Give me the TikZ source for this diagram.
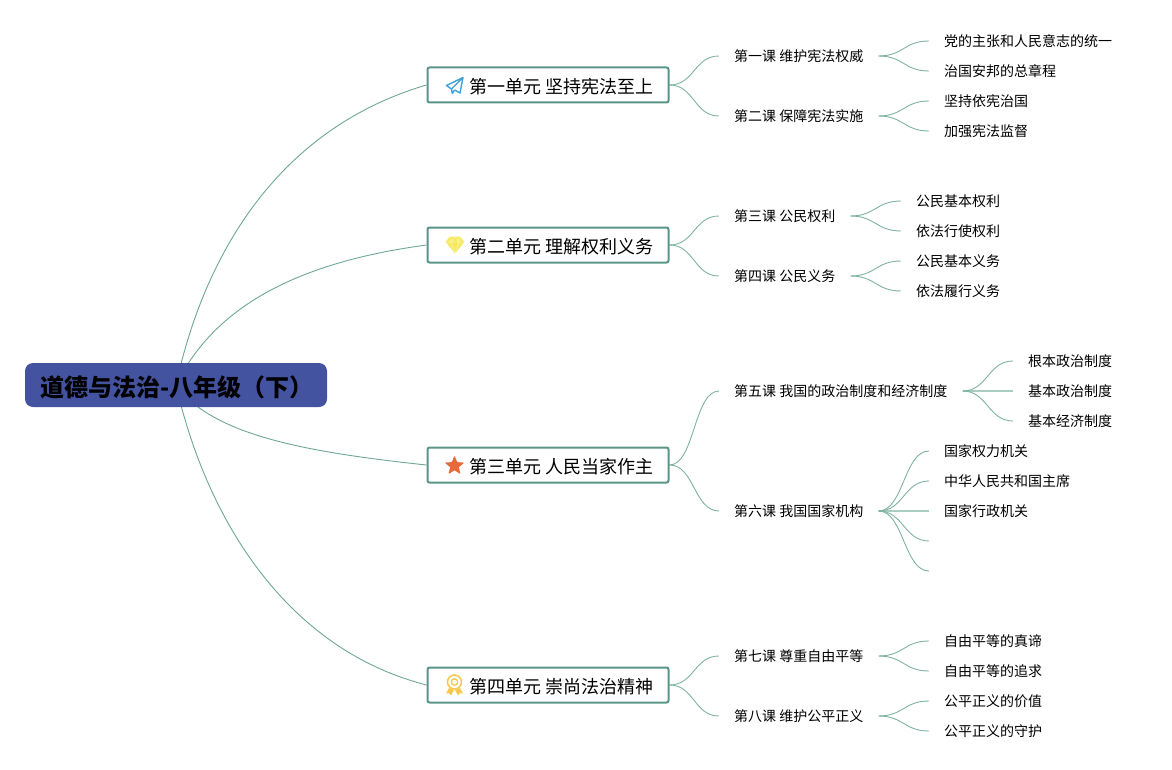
\documentclass[tikz,border=0pt]{standalone}
\usepackage{fontspec}
\setmainfont{Noto Sans CJK SC}
\usetikzlibrary{backgrounds,shapes.geometric}
\definecolor{branch}{HTML}{6FA796}
\definecolor{smallbranch}{HTML}{7FB3A2}
\definecolor{flatbranch}{HTML}{A9CDC1}
\definecolor{boxline}{HTML}{5A9686}
\definecolor{rootfill}{HTML}{4353A0}
\definecolor{planeblue}{HTML}{3FA0DA}
\definecolor{gemyellow}{HTML}{F6E95F}
\definecolor{gemfacet}{HTML}{FBF4A6}
\definecolor{starorange}{HTML}{E9693A}
\definecolor{medalgold}{HTML}{F6C94E}
\tikzset{
  x=1pt,y=-1pt,
  rootnode/.style={draw=none,fill=rootfill,rounded corners=8pt,minimum width=302pt,minimum height=44pt,inner sep=0pt,
    font=\fontsize{24}{24}\selectfont\bfseries,text=black,text height=23pt,text depth=1pt},
  unitbox/.style={draw=boxline,line width=2pt,fill=white,rounded corners=2pt,minimum width=241pt,minimum height=35pt,inner sep=0pt,
    font=\fontsize{18}{18}\selectfont,text=black,text height=17.3pt,text depth=0.7pt},
  lesson/.style={anchor=west,inner xsep=15pt,inner ysep=0pt,font=\fontsize{14}{14}\selectfont,text=black,text height=12.3pt,text depth=1.7pt},
  leaf/.style={lesson},
  conn/.style={draw=smallbranch,line width=0.9pt},
  flatconn/.style={draw=flatbranch,line width=1.6pt},
  bigconn/.style={draw=branch,line width=0.9pt},
}
\newcommand{\sbranch}[2]{\draw[conn] (#1) .. controls +(25,0) and +(-25,0) .. (#2);}
\begin{document}
\begin{tikzpicture}
\useasboundingbox (0,0) rectangle (1172,770);
% root and units
\node[rootnode] (root) at (176,385) {\hspace*{1.5pt}道德与法治-八年级（下）};
\node[unitbox] (u1) at (548,85) {\hspace*{27pt}第一单元 坚持宪法至上};
\node[unitbox] (u2) at (548,245) {\hspace*{27pt}第二单元 理解权利义务};
\node[unitbox] (u3) at (548,465) {\hspace*{27pt}第三单元 人民当家作主};
\node[unitbox] (u4) at (548,685) {\hspace*{27pt}第四单元 崇尚法治精神};
% lessons
\node[lesson] (l1) at (719,56) {第一课 维护宪法权威};
\node[lesson] (l2) at (719,116) {第二课 保障宪法实施};
\node[lesson] (l3) at (719,216) {第三课 公民权利};
\node[lesson] (l4) at (719,276) {第四课 公民义务};
\node[lesson] (l5) at (719,391) {第五课 我国的政治制度和经济制度};
\node[lesson] (l6) at (719,511) {第六课 我国国家机构};
\node[lesson] (l7) at (719,656) {第七课 尊重自由平等};
\node[lesson] (l8) at (719,716) {第八课 维护公平正义};
% leaves
\node[leaf] (a1) at (929,41) {党的主张和人民意志的统一};
\node[leaf] (a2) at (929,71) {治国安邦的总章程};
\node[leaf] (b1) at (929,101) {坚持依宪治国};
\node[leaf] (b2) at (929,131) {加强宪法监督};
\node[leaf] (c1) at (901,201) {公民基本权利};
\node[leaf] (c2) at (901,231) {依法行使权利};
\node[leaf] (d1) at (901,261) {公民基本义务};
\node[leaf] (d2) at (901,291) {依法履行义务};
\node[leaf] (e1) at (1013,361) {根本政治制度};
\node[leaf] (e2) at (1013,391) {基本政治制度};
\node[leaf] (e3) at (1013,421) {基本经济制度};
\node[leaf] (f1) at (929,451) {国家权力机关};
\node[leaf] (f2) at (929,481) {中华人民共和国主席};
\node[leaf] (f3) at (929,511) {国家行政机关};
\coordinate (f4) at (929,541);
\coordinate (f5) at (929,571);
\node[leaf] (g1) at (929,641) {自由平等的真谛};
\node[leaf] (g2) at (929,671) {自由平等的追求};
\node[leaf] (h1) at (929,701) {公平正义的价值};
\node[leaf] (h2) at (929,731) {公平正义的守护};
% connectors
\begin{scope}[on background layer]
\fill[white] (0,0) rectangle (1172,770);
\draw[bigconn] (root.center) .. controls (208,238) and (290,125) .. (u1.west);
\draw[bigconn] (root.center) .. controls (215,305) and (300,262) .. (u2.west);
\draw[bigconn] (root.center) .. controls (212,435) and (305,452) .. (u3.west);
\draw[bigconn] (root.center) .. controls (208,525) and (290,650) .. (u4.west);
\sbranch{u1.east}{l1.west}\sbranch{u1.east}{l2.west}
\sbranch{u2.east}{l3.west}\sbranch{u2.east}{l4.west}
\sbranch{u3.east}{l5.west}\sbranch{u3.east}{l6.west}
\sbranch{u4.east}{l7.west}\sbranch{u4.east}{l8.west}
\sbranch{l1.east}{a1.west}\sbranch{l1.east}{a2.west}
\sbranch{l2.east}{b1.west}\sbranch{l2.east}{b2.west}
\sbranch{l3.east}{c1.west}\sbranch{l3.east}{c2.west}
\sbranch{l4.east}{d1.west}\sbranch{l4.east}{d2.west}
\draw[flatconn] (l5.east) -- (e2.west);
\sbranch{l5.east}{e1.west}\sbranch{l5.east}{e3.west}
\draw[flatconn] (l6.east) -- (f3.west);
\sbranch{l6.east}{f1.west}\sbranch{l6.east}{f2.west}\sbranch{l6.east}{f4}\sbranch{l6.east}{f5}
\sbranch{l7.east}{g1.west}\sbranch{l7.east}{g2.west}
\sbranch{l8.east}{h1.west}\sbranch{l8.east}{h2.west}
\end{scope}
% icons
\draw[planeblue,line width=1.4pt,line join=round] (463,77.5) -- (446.5,85.5) -- (451.5,89) -- cycle (463,77.5) -- (460,93) -- (454.5,90) (451.5,89) -- (452.3,93.5) -- (454.5,90);
\fill[gemyellow] (449.5,236.5) -- (460,236.5) -- (464.3,242) -- (455,253.5) -- (445.7,242) -- cycle;
\draw[gemfacet,line width=0.6pt] (445.7,242) -- (464.3,242) (449.5,236.5) -- (451,242) -- (455,253.5) -- (459,242) -- (460,236.5) (451,242) -- (455,236.5) -- (459,242);
\node[star,star points=5,star point ratio=2.3,fill=starorange,draw=starorange,line width=1pt,line join=round,minimum size=18pt,inner sep=0pt] (staricon) at (454.5,465.8) {};
\draw[medalgold,line width=1.5pt] (454.5,682) circle (7);
\draw[medalgold,line width=1.3pt] (454.5,682) circle (3.2);
\fill[medalgold] (449,688) -- (446,693.5) -- (449,693) -- (451,695.5) -- (454,690) -- cycle;
\fill[medalgold] (460,688) -- (463,693.5) -- (460,693) -- (458,695.5) -- (455,690) -- cycle;
\end{tikzpicture}
\end{document}
